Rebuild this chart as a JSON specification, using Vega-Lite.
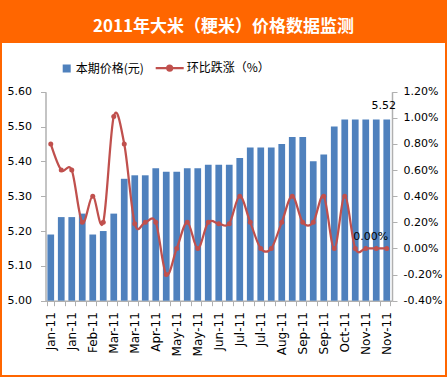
{
  "$schema": "https://vega.github.io/schema/vega-lite/v6.json",
  "width": 443,
  "height": 332,
  "autosize": {"type": "none"},
  "padding": {"left": 2, "top": 43, "right": 2, "bottom": 2},
  "background": "#FF6600",
  "config": {
    "view": {"fill": "#FFFFFF", "stroke": null},
    "axis": {
      "labelFont": "DejaVu Sans",
      "labelFontSize": 11,
      "labelColor": "#000000",
      "domainColor": "#B0B0B0",
      "domainWidth": 1.5,
      "tickColor": "#B0B0B0",
      "tickWidth": 1,
      "tickSize": 5,
      "grid": false
    },
    "text": {"font": "DejaVu Sans", "fontSize": 11, "color": "#000000"}
  },
  "title": {
    "text": "2011年大米（粳米）价格数据监测",
    "color": "#FFFFFF",
    "font": "Noto Sans CJK SC",
    "fontSize": 17,
    "fontWeight": "bold",
    "anchor": "middle",
    "frame": "group",
    "baseline": "middle",
    "offset": -1
  },
  "data": {
    "values": [
      {"d": "2011-01-01", "p": 5.19, "c": 0.0080},
      {"d": "2011-01-11", "p": 5.24, "c": 0.0060},
      {"d": "2011-01-21", "p": 5.24, "c": 0.0060},
      {"d": "2011-02-01", "p": 5.25, "c": 0.0020},
      {"d": "2011-02-11", "p": 5.19, "c": 0.0040},
      {"d": "2011-02-21", "p": 5.20, "c": 0.0020},
      {"d": "2011-03-01", "p": 5.25, "c": 0.0101},
      {"d": "2011-03-11", "p": 5.35, "c": 0.0080},
      {"d": "2011-03-21", "p": 5.36, "c": 0.0019},
      {"d": "2011-04-01", "p": 5.36, "c": 0.0020},
      {"d": "2011-04-11", "p": 5.38, "c": 0.0020},
      {"d": "2011-04-21", "p": 5.37, "c": -0.0020},
      {"d": "2011-05-01", "p": 5.37, "c": 0.0000},
      {"d": "2011-05-11", "p": 5.38, "c": 0.0020},
      {"d": "2011-05-21", "p": 5.38, "c": 0.0000},
      {"d": "2011-06-01", "p": 5.39, "c": 0.0020},
      {"d": "2011-06-11", "p": 5.39, "c": 0.0019},
      {"d": "2011-06-21", "p": 5.39, "c": 0.0019},
      {"d": "2011-07-01", "p": 5.41, "c": 0.0040},
      {"d": "2011-07-11", "p": 5.44, "c": 0.0020},
      {"d": "2011-07-21", "p": 5.44, "c": 0.0000},
      {"d": "2011-08-01", "p": 5.44, "c": 0.0000},
      {"d": "2011-08-11", "p": 5.45, "c": 0.0020},
      {"d": "2011-08-21", "p": 5.47, "c": 0.0040},
      {"d": "2011-09-01", "p": 5.47, "c": 0.0020},
      {"d": "2011-09-11", "p": 5.40, "c": 0.0020},
      {"d": "2011-09-21", "p": 5.42, "c": 0.0040},
      {"d": "2011-10-01", "p": 5.50, "c": 0.0000},
      {"d": "2011-10-11", "p": 5.52, "c": 0.0040},
      {"d": "2011-10-21", "p": 5.52, "c": 0.0000},
      {"d": "2011-11-01", "p": 5.52, "c": 0.0000},
      {"d": "2011-11-11", "p": 5.52, "c": 0.0000},
      {"d": "2011-11-21", "p": 5.52, "c": 0.0000}
    ]
  },
  "layer": [
    {
      "layer": [
        {
          "mark": {"type": "bar", "color": "#4F81BD"},
          "encoding": {
            "x": {
              "field": "d",
              "type": "ordinal",
              "title": null,
              "scale": {"range": [43.5, 390], "paddingInner": 0.36, "paddingOuter": 0.18},
              "axis": {
                "title": null,
                "orient": "bottom",
                "offset": -74.3,
                "labelAngle": 270,
                "labelAlign": "right",
                "labelBaseline": "middle",
                "labelFontSize": 12,
                "labelPadding": 6,
                "tickBand": "extent",
                "labelOverlap": false,
                "labelExpr": "isString(datum.value) && length(datum.value) == 10 && (utcmonth(toDate(datum.value))*3 + floor((utcdate(toDate(datum.value))-1)/10)) % 2 == 0 ? utcFormat(toDate(datum.value), '%b-%y') : ''"
              }
            },
            "y": {
              "field": "p",
              "type": "quantitative",
              "title": null,
              "scale": {"domain": [5, 5.6], "range": [257.7, 48.7], "nice": false, "zero": false},
              "axis": {
                "title": null,
                "orient": "left",
                "offset": -43.5,
                "values": [5, 5.1, 5.2, 5.3, 5.4, 5.5, 5.6],
                "format": ".2f",
                "labelPadding": 9
              }
            },
            "y2": {"datum": 5},
            "color": {
              "datum": "本期价格(元)",
              "scale": {"domain": ["本期价格(元)", "环比跌涨（%）"], "range": ["#4F81BD", "#C0504D"]},
              "legend": {
                "orient": "none",
                "legendX": 58.7,
                "legendY": 19,
                "direction": "horizontal",
                "title": null,
                "padding": 0,
                "labelFont": "Noto Sans CJK SC",
                "labelFontSize": 12,
                "labelColor": "#000000",
                "symbolSize": 100,
                "labelOffset": 3,
                "columnPadding": 6,
                "encode": {
                  "symbols": {
                    "update": {
                      "shape": {"signal": "datum.value === '本期价格(元)' ? 'square' : 'M-4.4,0H1.2M-1.1,0A0.5,0.5,0,1,1,-2.1,0A0.5,0.5,0,1,1,-1.1,0Z'"},
                      "size": {"signal": "datum.value === '本期价格(元)' ? 64 : 100"},
                      "fill": {"signal": "datum.value === '本期价格(元)' ? '#4F81BD' : '#C0504D'"},
                      "stroke": {"signal": "datum.value === '本期价格(元)' ? '#4F81BD' : '#C0504D'"},
                      "strokeWidth": {"signal": "datum.value === '本期价格(元)' ? 0 : 2.25"},
                      "opacity": {"value": 1},
                      "fillOpacity": {"value": 1},
                      "strokeOpacity": {"value": 1}
                    }
                  }
                }
              }
            }
          }
        },
        {
          "transform": [{"filter": "datum.d == '2011-11-21'"}],
          "mark": {"type": "text", "dx": -3, "dy": -14, "baseline": "middle", "align": "center"},
          "encoding": {
            "x": {"field": "d", "type": "ordinal", "title": null},
            "y": {"field": "p", "type": "quantitative", "title": null},
            "text": {"field": "p", "type": "quantitative", "format": ".2f"}
          }
        }
      ]
    },
    {
      "layer": [
        {
          "mark": {
            "type": "line",
            "interpolate": "cardinal",
            "strokeWidth": 2.25,
            "point": {"filled": true, "size": 25}
          },
          "encoding": {
            "x": {"field": "d", "type": "ordinal", "title": null},
            "y": {
              "field": "c",
              "type": "quantitative",
              "title": null,
              "scale": {"domain": [-0.004, 0.012], "range": [257.7, 48.7], "nice": false, "zero": false},
              "axis": {
                "title": null,
                "orient": "right",
                "offset": -53,
                "values": [-0.004, -0.002, 0, 0.002, 0.004, 0.006, 0.008, 0.01, 0.012],
                "labelExpr": "replace(format(datum.value, '.2%'), '\u2212', '-')",
                "labelPadding": 6
              }
            },
            "color": {"datum": "环比跌涨（%）"}
          }
        },
        {
          "transform": [{"filter": "datum.d == '2011-11-21'"}],
          "mark": {"type": "text", "dx": -16, "dy": -11, "baseline": "middle", "align": "center"},
          "encoding": {
            "x": {"field": "d", "type": "ordinal", "title": null},
            "y": {"field": "c", "type": "quantitative", "title": null},
            "text": {"field": "c", "type": "quantitative", "format": ".2%"}
          }
        }
      ]
    }
  ],
  "resolve": {"scale": {"y": "independent"}, "axis": {"y": "independent"}}
}
